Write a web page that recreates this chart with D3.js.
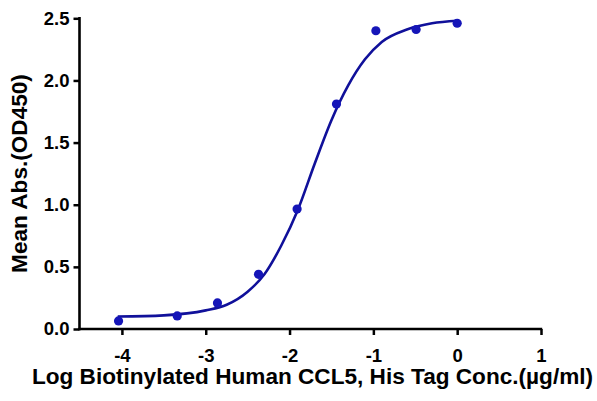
<!DOCTYPE html>
<html lang="en">
<head>
  <meta charset="UTF-8">
  <style>
    body {
      margin: 0;
      padding: 0;
      background: #ffffff;
    }
    #chart {
      display: block;
    }
    .axis text {
      font-family: "Liberation Sans", Arial, sans-serif;
      font-weight: bold;
      font-size: 18.5px;
      fill: #000;
    }
    .title {
      font-family: "Liberation Sans", Arial, sans-serif;
      font-weight: bold;
      font-size: 22.6px;
      fill: #000;
    }
  </style>
</head>
<body>
  <svg id="chart" width="597" height="401"></svg>

  <script src="https://d3js.org/d3.v7.min.js"></script>
  <script>
    // measured points (log conc, OD450)
    let logConc = [-4.04, -3.34, -2.86, -2.37, -1.91, -1.44, -0.97, -0.49, 0.0];
    let meanAbs = [0.065, 0.105, 0.21, 0.44, 0.965, 1.81, 2.40, 2.41, 2.46];

    // fitted curve
    let fitX = [-4.05, -3.5, -3.0, -2.75, -2.5, -2.3, -2.1, -1.9, -1.7, -1.5, -1.3, -1.1, -0.9, -0.6, -0.3, 0.0];
    let fitY = [0.10, 0.11, 0.15, 0.195, 0.30, 0.44, 0.67, 0.96, 1.33, 1.68, 1.96, 2.17, 2.31, 2.41, 2.46, 2.48];

    let xTicks = [-4, -3, -2, -1, 0, 1];
    let yTicks = [0, 0.5, 1.0, 1.5, 2.0, 2.5];

    let svg = d3.select("#chart");

    let x = d3.scaleLinear().domain([-4.5, 1]).range([80, 541]);
    let y = d3.scaleLinear().domain([0, 2.5]).range([329, 18.3]);

    // axes with their own domain path, drawn thick
    let xAxis = svg.append("g")
        .attr("transform", "translate(0,329)")
        .call(d3.axisBottom(x).tickValues(xTicks).tickFormat(d => String(d))
          .tickSize(6).tickSizeOuter(0).tickPadding(8));
    xAxis.select(".domain")
        .attr("d", "M78.3,0H" + (x(1) + 1.2))
        .attr("stroke", "#000")
        .attr("stroke-width", 2.6);

    let yAxis = svg.append("g")
        .attr("transform", "translate(79.5,0)")
        .call(d3.axisLeft(y).tickValues(yTicks).tickFormat(d3.format(".1f"))
          .tickSize(6).tickSizeOuter(0).tickPadding(4));
    yAxis.select(".domain")
        .attr("d", "M0," + (y(2.5) - 1.2) + "V" + (y(0) + 1.2))
        .attr("stroke", "#000")
        .attr("stroke-width", 2.6);

    svg.selectAll(".tick line").attr("stroke", "#000").attr("stroke-width", 2.5);
    svg.selectAll(".tick text").attr("class", null)
        .style("font-family", "'Liberation Sans', Arial, sans-serif")
        .style("font-weight", "bold")
        .style("font-size", "18.5px")
        .attr("fill", "#000");
    xAxis.selectAll(".tick text").attr("dy", null).attr("y", 33);

    // fit line
    let line = d3.line()
        .x((d, i) => x(fitX[i]))
        .y(d => y(d))
        .curve(d3.curveMonotoneX);

    svg.append("path")
        .datum(fitY)
        .attr("d", line)
        .attr("fill", "none")
        .attr("stroke", "#10109a")
        .attr("stroke-width", 2.6);

    // points
    svg.append("g")
        .selectAll("circle")
        .data(meanAbs)
        .enter()
        .append("circle")
        .attr("cx", (d, i) => x(logConc[i]))
        .attr("cy", d => y(d))
        .attr("r", 4.6)
        .attr("fill", "#1515b8");

    // titles
    svg.append("text")
        .attr("class", "title")
        .attr("x", 312.5)
        .attr("y", 384)
        .attr("text-anchor", "middle")
        .text("Log Biotinylated Human CCL5, His Tag Conc.(µg/ml)");

    svg.append("text")
        .attr("class", "title")
        .attr("transform", "translate(27,173.5) rotate(-90)")
        .attr("text-anchor", "middle")
        .text("Mean Abs.(OD450)");
  </script>
</body>
</html>
